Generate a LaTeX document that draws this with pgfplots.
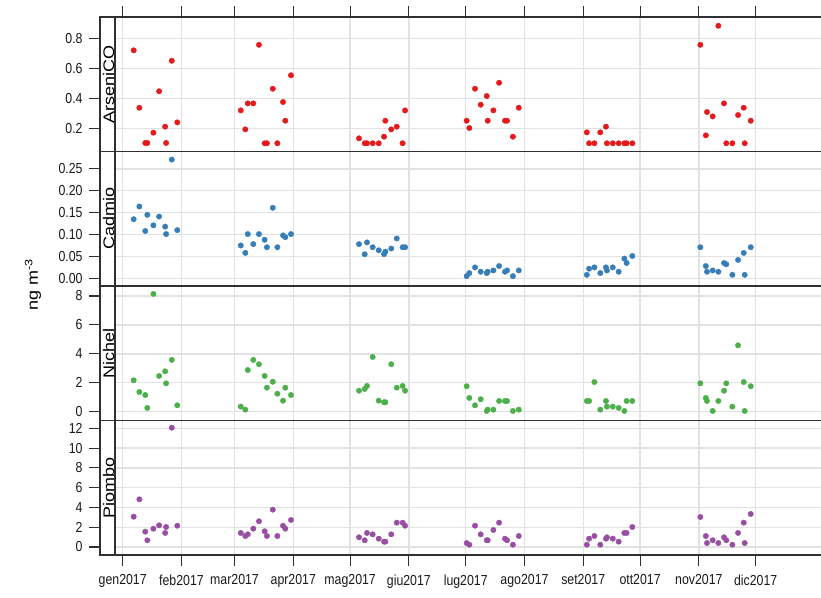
\documentclass[border=0pt]{standalone}
\usepackage{fontspec}
\setmainfont{Liberation Sans}
\usepackage{pgfplots}
\usepackage{pgfplotstable}
\pgfplotsset{compat=1.18}
\definecolor{cAs}{HTML}{E41A1C}
\definecolor{cCd}{HTML}{377EB8}
\definecolor{cNi}{HTML}{4DAF4A}
\definecolor{cPb}{HTML}{984EA3}
\definecolor{gridc}{HTML}{E2E2E2}
\definecolor{framec}{HTML}{303030}

\pgfplotstableread{
d As Cd Ni Pb
5.8 0.722 0.135 2.17 3.06
8.8 0.338 0.164 1.36 4.82
11.9 0.102 0.108 1.15 1.55
13.0 0.102 0.145 0.26 0.68
16.2 0.171 0.121 8.14 1.85
19.2 0.448 0.141 2.47 2.19
22.4 0.211 0.118 2.79 1.42
22.9 0.102 0.101 1.96 2.02
25.9 0.652 0.271 3.58 12.06
28.8 0.240 0.110 0.44 2.15
62.3 0.320 0.075 0.35 1.42
64.7 0.193 0.058 0.14 1.11
66.0 0.367 0.101 2.88 1.28
68.9 0.367 0.078 3.58 1.85
71.9 0.759 0.101 3.28 2.60
74.9 0.100 0.088 2.47 1.59
76.1 0.100 0.071 1.66 1.11
79.2 0.465 0.161 2.07 3.77
81.6 0.100 0.071 1.24 1.11
84.6 0.376 0.098 0.76 2.15
85.8 0.251 0.094 1.66 1.85
88.8 0.555 0.101 1.15 2.73
124.7 0.133 0.078 1.45 0.98
127.7 0.100 0.055 1.57 0.68
128.9 0.100 0.082 1.78 1.42
131.9 0.100 0.071 3.78 1.28
135.1 0.100 0.064 0.76 0.84
137.9 0.144 0.055 0.65 0.54
138.6 0.251 0.061 0.65 0.54
141.7 0.193 0.068 3.28 1.28
144.6 0.211 0.091 1.66 2.46
147.7 0.100 0.071 1.78 2.46
149.0 0.320 0.071 1.45 2.15
181.5 0.251 0.005 1.76 0.40
182.9 0.202 0.012 0.95 0.23
185.9 0.465 0.025 0.44 2.15
188.9 0.358 0.015 0.86 1.28
192.1 0.416 0.012 0.05 0.68
192.6 0.251 0.015 0.14 0.68
195.6 0.320 0.018 0.14 1.72
198.6 0.505 0.028 0.74 2.46
201.7 0.251 0.015 0.74 0.84
202.8 0.251 0.018 0.74 0.68
205.9 0.144 0.005 0.05 0.23
209.0 0.338 0.018 0.14 1.11
244.9 0.173 0.008 0.74 0.23
246.1 0.100 0.022 0.74 0.84
248.9 0.100 0.025 2.05 1.11
252.0 0.173 0.012 0.14 0.23
255.0 0.211 0.025 0.74 0.84
255.5 0.100 0.018 0.35 0.98
258.6 0.100 0.025 0.35 0.84
261.7 0.100 0.015 0.26 0.54
264.7 0.100 0.045 0.05 1.42
265.9 0.100 0.035 0.74 1.42
268.9 0.100 0.051 0.74 2.02
304.8 0.759 0.071 1.96 3.03
307.7 0.153 0.028 0.95 1.11
308.3 0.309 0.015 0.74 0.40
311.3 0.280 0.018 0.05 0.68
314.3 0.886 0.015 0.74 0.40
317.3 0.367 0.035 1.45 0.98
318.5 0.100 0.032 1.96 0.68
321.7 0.100 0.008 0.35 0.23
324.7 0.289 0.042 4.59 1.42
327.7 0.338 0.058 2.05 2.46
328.2 0.100 0.008 0.05 0.40
331.4 0.251 0.071 1.76 3.34
}\datatab

\pgfplotsset{
  panel/.style={
    scale only axis, width=780pt, height=134.5pt,
    anchor=south west,
    xmin=-11.98, xmax=399.6,
    xtick={0,31,59,90,120,151,181,212,243,273,304,334},
    grid=major,
    grid style={gridc, line width=1.4pt},
    axis line style={framec, line width=1.1pt},
    tick style={framec, line width=1.1pt},
    tick align=outside,
    major tick length=11pt,
    ytick pos=left,
    tick label style={font=\fontsize{14.5}{14.5}\selectfont, xscale=0.85, text=black!90},
    yticklabel style={xshift=-4pt},
    xticklabel style={yshift=-5pt},
  },
  pts/.style={only marks, color=#1, mark=*, mark size=2.7pt, mark options={draw=none, fill=#1}},
}

\begin{document}
\begin{tikzpicture}
\begin{axis}[panel, at={(100pt,445.5pt)}, ymin=0.045, ymax=0.945,
  ytick={0.2,0.4,0.6,0.8}, yticklabels={0.2,0.4,0.6,0.8},
  xtick pos=right, xticklabels={}]
\addplot[pts=cAs] table[x=d,y=As]{\datatab};
\end{axis}
\begin{axis}[panel, at={(100pt,311pt)}, ymin=-0.0175, ymax=0.2895,
  ytick={0,0.05,0.1,0.15,0.2,0.25}, yticklabels={0.00,0.05,0.10,0.15,0.20,0.25},
  xticklabels={}, x tick style={draw=none}]
\addplot[pts=cCd] table[x=d,y=Cd]{\datatab};
\end{axis}
\begin{axis}[panel, at={(100pt,176.5pt)}, ymin=-0.61, ymax=8.69,
  ytick={0,2,4,6,8}, yticklabels={0,2,4,6,8},
  xticklabels={}, x tick style={draw=none}]
\addplot[pts=cNi] table[x=d,y=Ni]{\datatab};
\end{axis}
\begin{axis}[panel, at={(100pt,42pt)}, ymin=-0.81, ymax=12.79,
  ytick={0,2,4,6,8,10,12}, yticklabels={0,2,4,6,8,10,12},
  xtick pos=left,
  xticklabels={gen2017,feb2017,mar2017,apr2017,mag2017,giu2017,lug2017,ago2017,set2017,ott2017,nov2017,dic2017}]
\addplot[pts=cPb] table[x=d,y=Pb]{\datatab};
\end{axis}
% strips
\foreach \b/\t/\name in {445.5/580/ArseniCO, 311/445.5/Cadmio, 176.5/311/Nichel, 42/176.5/Piombo}{
  \fill[white] (100.6pt,\b pt+0.6pt) rectangle (114.4pt,\t pt-0.6pt);
  \draw[framec, line width=1.1pt] (115pt,\b pt) -- (115pt,\t pt);
  \node[rotate=90, yscale=0.85, anchor=base, inner sep=0pt, font=\fontsize{18}{18}\selectfont, text=black]
    at (114pt,{(\b+\t)/2*1pt}) {\name};
}
\node[rotate=90, yscale=0.85, font=\fontsize{18}{18}\selectfont, text=black] at (33pt,312pt) {ng m\textsuperscript{-3}};
\pgfresetboundingbox
\path[use as bounding box] (0pt,0pt) rectangle (821pt,597pt);
\end{tikzpicture}
\end{document}
